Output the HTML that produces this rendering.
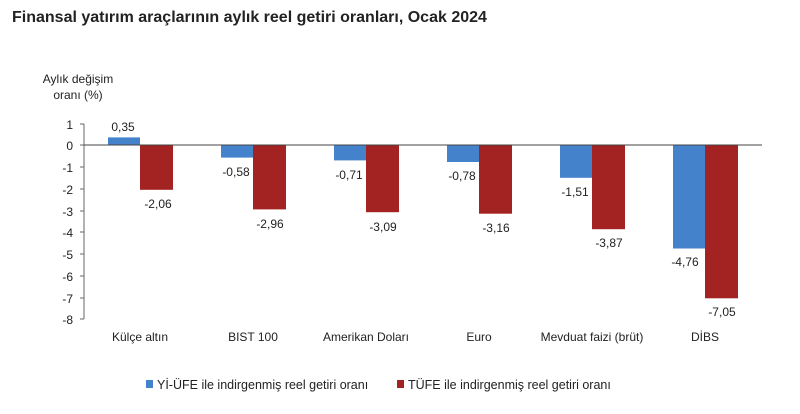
<!DOCTYPE html>
<html><head><meta charset="utf-8"><style>
body{margin:0;background:#fff;width:800px;height:409px;overflow:hidden;font-family:"Liberation Sans",sans-serif}
</style></head><body>
<svg width="800" height="409" xmlns="http://www.w3.org/2000/svg" font-family="Liberation Sans, sans-serif">
<text x="12" y="22" font-size="16" font-weight="bold" fill="#222">Finansal yatırım araçlarının aylık reel getiri oranları, Ocak 2024</text>
<text x="78" y="83" font-size="12" fill="#222" text-anchor="middle">Aylık değişim</text>
<text x="78" y="99" font-size="12" fill="#222" text-anchor="middle">oranı (%)</text>
<g font-size="12" fill="#222" text-anchor="end">
<text x="73" y="129">1</text><text x="73" y="150">0</text><text x="73" y="172">-1</text><text x="73" y="194">-2</text><text x="73" y="216">-3</text><text x="73" y="237">-4</text><text x="73" y="259">-5</text><text x="73" y="281">-6</text><text x="73" y="303">-7</text><text x="73" y="324">-8</text>
</g>
<line x1="84" y1="124" x2="84" y2="319" stroke="#666"/>
<g stroke="#666">
<line x1="80" y1="124" x2="84" y2="124"/><line x1="80" y1="145" x2="84" y2="145"/><line x1="80" y1="167" x2="84" y2="167"/><line x1="80" y1="189" x2="84" y2="189"/><line x1="80" y1="211" x2="84" y2="211"/><line x1="80" y1="232" x2="84" y2="232"/><line x1="80" y1="254" x2="84" y2="254"/><line x1="80" y1="276" x2="84" y2="276"/><line x1="80" y1="298" x2="84" y2="298"/><line x1="80" y1="319" x2="84" y2="319"/>
</g>
<g fill="#4482cb">
<rect x="108" y="137.4" width="32" height="7.6"/>
<rect x="221" y="145" width="32" height="12.6"/>
<rect x="334" y="145" width="32" height="15.4"/>
<rect x="447" y="145" width="32" height="17"/>
<rect x="560" y="145" width="32" height="32.8"/>
<rect x="673" y="145" width="32" height="103.5"/>
</g>
<g fill="#a32222">
<rect x="140" y="145" width="33" height="44.8"/>
<rect x="253" y="145" width="33" height="64.4"/>
<rect x="366" y="145" width="33" height="67.2"/>
<rect x="479" y="145" width="33" height="68.7"/>
<rect x="592" y="145" width="33" height="84.2"/>
<rect x="705" y="145" width="33" height="153.3"/>
</g>
<line x1="84" y1="145" x2="762" y2="145" stroke="#444"/>
<g font-size="12" fill="#222" text-anchor="middle">
<text x="123" y="131">0,35</text><text x="158" y="208">-2,06</text>
<text x="236" y="176">-0,58</text><text x="270" y="228">-2,96</text>
<text x="349" y="179">-0,71</text><text x="383" y="231">-3,09</text>
<text x="462" y="180">-0,78</text><text x="496" y="232">-3,16</text>
<text x="575" y="196">-1,51</text><text x="609" y="247">-3,87</text>
<text x="685" y="266">-4,76</text><text x="722" y="316">-7,05</text>
<text x="140" y="341">Külçe altın</text><text x="253" y="341">BIST 100</text><text x="366" y="341">Amerikan Doları</text><text x="479" y="341">Euro</text><text x="592" y="341">Mevduat faizi (brüt)</text><text x="705" y="341">DİBS</text>
</g>
<rect x="146" y="380" width="7" height="8" fill="#4482cb"/>
<text x="157" y="389" font-size="12.5" fill="#222">Yİ-ÜFE ile indirgenmiş reel getiri oranı</text>
<rect x="397" y="380" width="7" height="8" fill="#a32222"/>
<text x="408" y="389" font-size="12.5" fill="#222">TÜFE ile indirgenmiş reel getiri oranı</text>
</svg>
</body></html>
